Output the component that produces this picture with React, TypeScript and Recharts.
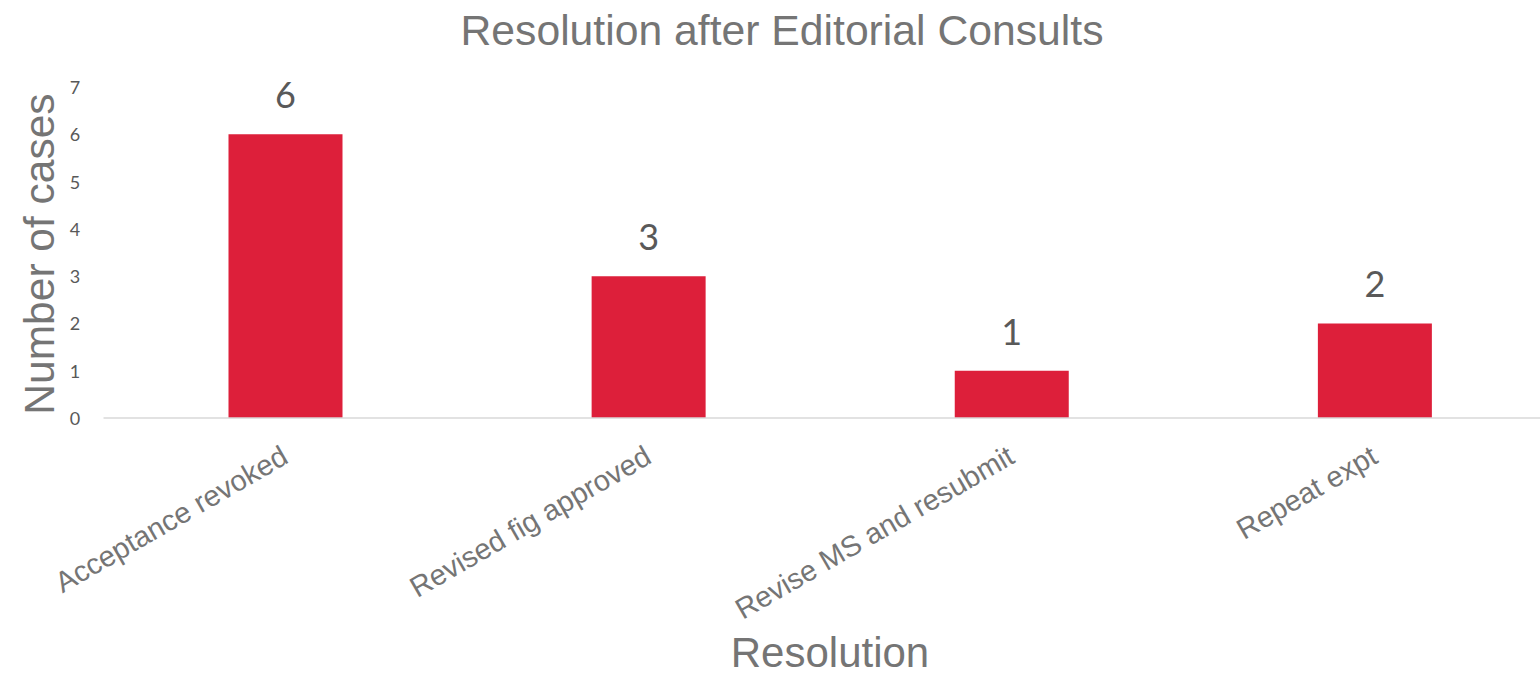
import React from "react";
import { BarChart, Bar, XAxis, YAxis, LabelList, Label } from "recharts";

const categories = ["Acceptance revoked", "Revised fig approved", "Revise MS and resubmit", "Repeat expt"];
const cases = [6, 3, 1, 2];
const yTicks = [0, 1, 2, 3, 4, 5, 6, 7];

const data = categories.map((c, i) => ({ name: c, value: cases[i] }));

const GRAY = "#757575";
const DARK = "#595959";
const RED = "#DD1F3A";

const XTick = (props: any) => {
  const { x, payload } = props;
  const ax = x + 5;
  const ay = 462;
  return (
    <text
      x={ax}
      y={ay}
      textAnchor="end"
      transform={`rotate(-30, ${ax}, ${ay})`}
      fill={GRAY}
      fontSize={29}
      fontFamily="'Liberation Sans', Arial, sans-serif"
    >
      {payload.value}
    </text>
  );
};

const YTick = (props: any) => {
  const { y, payload } = props;
  return (
    <text
      x={75}
      y={y}
      textAnchor="middle"
      dominantBaseline="central"
      fill={DARK}
      fontSize={18}
      fontFamily="Lato, 'Open Sans', sans-serif"
    >
      {payload.value}
    </text>
  );
};

const ValueLabel = (props: any) => {
  const { x, y, width, value } = props;
  return (
    <text
      x={x + width / 2}
      y={y - 26}
      textAnchor="middle"
      fill={DARK}
      fontSize={36}
      fontFamily="Lato, 'Open Sans', sans-serif"
    >
      {value}
    </text>
  );
};

export default function App() {
  return (
    <div style={{ position: "absolute", left: 0, top: 0, width: 1540, height: 676, overflow: "hidden", background: "#fff" }}>
      <BarChart
        width={1556}
        height={676}
        data={data}
        margin={{ top: 87, right: 0, bottom: 0, left: 0 }}
      >
        <text
          x={782}
          y={45}
          textAnchor="middle"
          fill={GRAY}
          fontSize={42.7}
          fontFamily="'Liberation Sans', Arial, sans-serif"
        >
          Resolution after Editorial Consults
        </text>
        <XAxis
          dataKey="name"
          height={258}
          axisLine={{ stroke: "#d9d9d9", strokeWidth: 1.5 }}
          tickLine={false}
          tick={<XTick />}
          interval={0}
        >
          <Label
            content={() => (
              <text
                x={830}
                y={667}
                textAnchor="middle"
                fill={GRAY}
                fontSize={42}
                fontFamily="'Liberation Sans', Arial, sans-serif"
              >
                Resolution
              </text>
            )}
          />
        </XAxis>
        <YAxis
          width={103.5}
          domain={[0, 7]}
          ticks={yTicks}
          axisLine={false}
          tickLine={false}
          tick={<YTick />}
          interval={0}
        >
          <Label
            content={() => (
              <text
                x={0}
                y={0}
                transform="translate(54, 254) rotate(-90)"
                textAnchor="middle"
                fill={GRAY}
                fontSize={42.5}
                fontFamily="'Liberation Sans', Arial, sans-serif"
              >
                Number of cases
              </text>
            )}
          />
        </YAxis>
        <Bar dataKey="value" fill={RED} barSize={114} isAnimationActive={false}>
          <LabelList dataKey="value" content={<ValueLabel />} />
        </Bar>
      </BarChart>
    </div>
  );
}
